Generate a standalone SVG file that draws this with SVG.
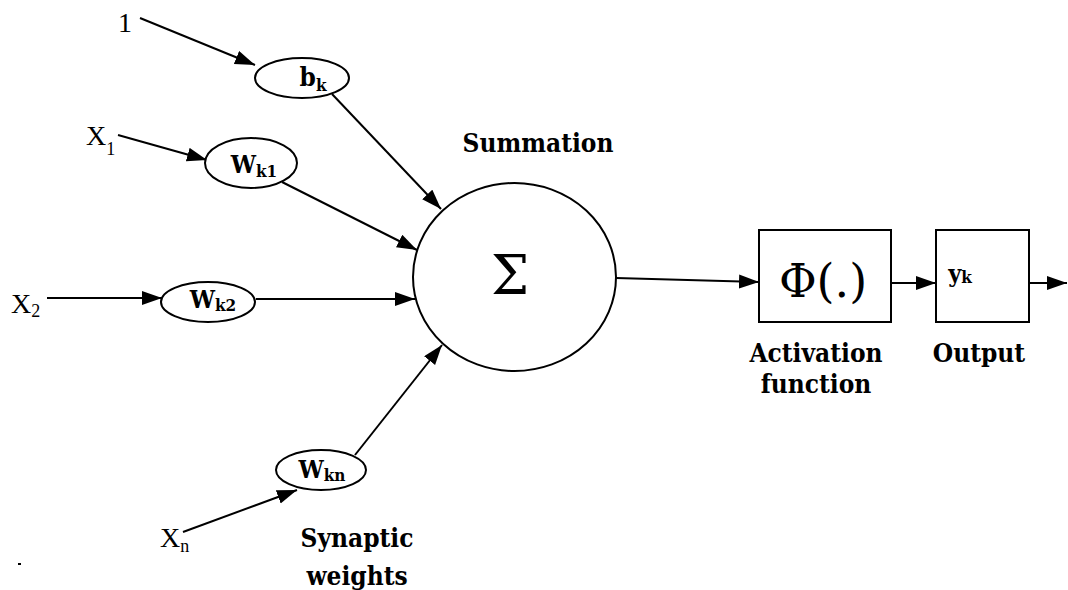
<svg xmlns="http://www.w3.org/2000/svg" width="1068" height="590" viewBox="0 0 1068 590">
<style>
.ln{stroke:#000;stroke-width:2;fill:none}
.arr{marker-end:url(#ah)}
.shp{stroke:#000;stroke-width:2;fill:#fff}
text{font-family:'Liberation Serif','Times New Roman',Times,serif;fill:#000}
.b{font-family:'DejaVu Serif Condensed','DejaVu Serif',serif;font-stretch:condensed;font-weight:bold}
.lbl{font-family:'DejaVu Serif Condensed','DejaVu Serif',serif;font-stretch:condensed;font-weight:bold;font-size:26px;text-anchor:middle}
.gr{font-family:'DejaVu Serif',serif}
</style>
<defs>
<marker id="ah" markerUnits="userSpaceOnUse" markerWidth="22" markerHeight="16" refX="20" refY="7" orient="auto">
<path d="M0,0 L20,7 L0,14 z" fill="#000"/>
</marker>
</defs>
<rect width="1068" height="590" fill="#fff"/>
<g id="connectors">
<line class="ln arr" x1="140" y1="18" x2="255" y2="65"/>
<line class="ln arr" x1="118" y1="135" x2="207" y2="160"/>
<line class="ln arr" x1="47" y1="298" x2="162" y2="298"/>
<line class="ln arr" x1="183" y1="532" x2="297" y2="490"/>
<line class="ln arr" x1="332" y1="94" x2="441" y2="209"/>
<line class="ln arr" x1="282" y1="182" x2="417" y2="250"/>
<line class="ln arr" x1="256" y1="299" x2="415" y2="299"/>
<line class="ln arr" x1="355" y1="455" x2="442" y2="345"/>
<line class="ln arr" x1="616" y1="278" x2="759" y2="282"/>
<line class="ln arr" x1="891" y1="283" x2="936" y2="283"/>
<line class="ln arr" x1="1029" y1="283" x2="1067" y2="283"/>
</g>
<g id="in_1"><text x="118" y="32" font-size="28">1</text></g>
<g id="in_x1"><text x="86" y="145" font-size="28">X<tspan font-size="18" dy="10">1</tspan></text></g>
<g id="in_x2"><text x="11" y="313" font-size="28">X<tspan font-size="18" dy="4">2</tspan></text></g>
<g id="in_xn"><text x="160" y="547" font-size="28">X<tspan font-size="18" dy="5">n</tspan></text></g>
<g id="bk">
<ellipse class="shp" cx="302" cy="78" rx="47" ry="20"/>
<text class="b" x="313" y="86" font-size="26" text-anchor="middle">b<tspan font-size="17" dy="5">k</tspan></text>
</g>
<g id="wk1">
<ellipse class="shp" cx="251" cy="163" rx="46" ry="25"/>
<text class="b" x="254" y="173" font-size="25" text-anchor="middle">W<tspan font-size="17" dy="4">k1</tspan></text>
</g>
<g id="wk2">
<ellipse class="shp" cx="208" cy="302" rx="47" ry="20"/>
<text class="b" x="213" y="308" font-size="25" text-anchor="middle">W<tspan font-size="17" dy="3">k2</tspan></text>
</g>
<g id="wkn">
<ellipse class="shp" cx="321" cy="470" rx="45" ry="20"/>
<text class="b" x="322" y="478" font-size="25" text-anchor="middle">W<tspan font-size="17" dy="3">kn</tspan></text>
</g>
<g id="sum">
<ellipse class="shp" cx="514.5" cy="277" rx="101.5" ry="94"/>
<text class="gr" x="510" y="294" font-size="54" text-anchor="middle">Σ</text>
<text class="lbl" x="538" y="152">Summation</text>
</g>
<g id="activation">
<rect class="shp" x="759" y="230" width="132" height="92"/>
<text class="gr" x="823" y="297" font-size="46" text-anchor="middle">Φ(.)</text>
<text class="lbl" x="816" y="362">Activation</text>
<text class="lbl" x="816" y="393">function</text>
</g>
<g id="output">
<rect class="shp" x="936" y="230" width="93" height="92"/>
<text class="b" x="960" y="282" font-size="25" text-anchor="middle">y<tspan font-size="17" dy="1">k</tspan></text>
<text class="lbl" x="979" y="362">Output</text>
</g>
<g id="synaptic">
<text class="lbl" x="357" y="547">Synaptic</text>
<text class="lbl" x="357" y="585">weights</text>
</g>
<rect x="18" y="563" width="3" height="2" fill="#000"/>
</svg>
